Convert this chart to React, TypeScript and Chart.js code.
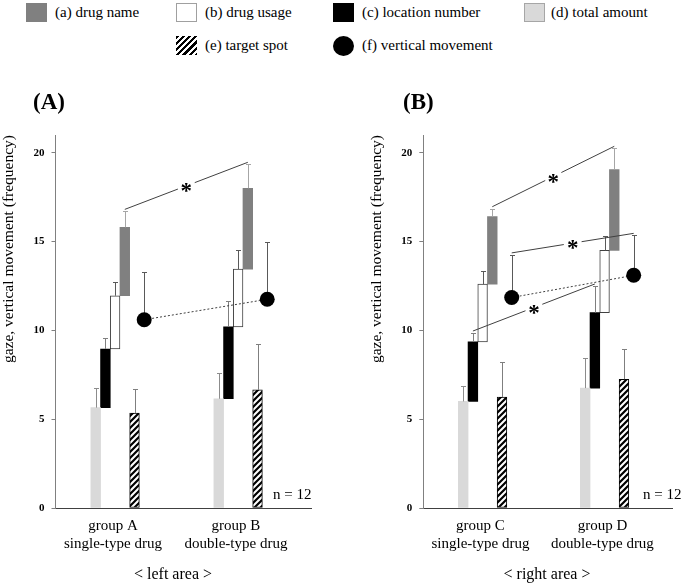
import React, { useEffect, useRef } from "react";
import { Chart, registerables } from "chart.js";

Chart.register(...registerables);

const SERIF = '"Liberation Serif", "Times New Roman", Times, serif';

// ---------- labels ----------
const seriesLabels = {
  a: "(a) drug name",
  b: "(b) drug usage",
  c: "(c) location number",
  d: "(d) total amount",
  e: "(e) target spot",
  f: "(f) vertical movement",
};
const yTickValues = [0, 5, 10, 15, 20];
const yAxisTitle = "gaze, vertical movement (frequency)";
const leftCategories = [["group A", "single-type drug"], ["group B", "double-type drug"]];
const rightCategories = [["group C", "single-type drug"], ["group D", "double-type drug"]];

// ---------- left area (A) ----------
// (d), (c), (b), (a) are stacked one above the other (increments)
const leftTotalAmount = [5.65, 6.15];
const leftLocationNumber = [3.3, 4.05];
const leftDrugUsage = [3.0, 3.25];
const leftDrugName = [3.85, 4.55];
const leftTargetSpot = [5.35, 6.65];
const leftVerticalMovement = [10.6, 11.75];
const leftTotalAmountErr = [1.1, 1.45];
const leftLocationNumberErr = [0.6, 1.45];
const leftDrugUsageErr = [0.75, 1.05];
const leftDrugNameErr = [0.9, 1.35];
const leftTargetSpotErr = [1.35, 2.6];
const leftVerticalMovementErr = [2.7, 3.2];
const leftSignificant = ["a"];

// ---------- right area (B) ----------
const rightTotalAmount = [6.0, 6.75];
const rightLocationNumber = [3.35, 4.25];
const rightDrugUsage = [3.25, 3.5];
const rightDrugName = [3.8, 4.55];
const rightTargetSpot = [6.25, 7.25];
const rightVerticalMovement = [11.85, 13.1];
const rightTotalAmountErr = [0.85, 1.7];
const rightLocationNumberErr = [0.5, 1.5];
const rightDrugUsageErr = [0.75, 0.8];
const rightDrugNameErr = [0.45, 1.2];
const rightTargetSpotErr = [1.95, 1.7];
const rightVerticalMovementErr = [2.4, 2.25];
const rightSignificant = ["a", "f", "c"];

type Panel = {
  categories: string[][];
  total: number[];
  location: number[];
  usage: number[];
  name: number[];
  target: number[];
  vertical: number[];
  totalErr: number[];
  locationErr: number[];
  usageErr: number[];
  nameErr: number[];
  targetErr: number[];
  verticalErr: number[];
  pairs: string[];
};

const leftPanel: Panel = {
  categories: leftCategories,
  total: leftTotalAmount,
  location: leftLocationNumber,
  usage: leftDrugUsage,
  name: leftDrugName,
  target: leftTargetSpot,
  vertical: leftVerticalMovement,
  totalErr: leftTotalAmountErr,
  locationErr: leftLocationNumberErr,
  usageErr: leftDrugUsageErr,
  nameErr: leftDrugNameErr,
  targetErr: leftTargetSpotErr,
  verticalErr: leftVerticalMovementErr,
  pairs: leftSignificant,
};

const rightPanel: Panel = {
  categories: rightCategories,
  total: rightTotalAmount,
  location: rightLocationNumber,
  usage: rightDrugUsage,
  name: rightDrugName,
  target: rightTargetSpot,
  vertical: rightVerticalMovement,
  totalErr: rightTotalAmountErr,
  locationErr: rightLocationNumberErr,
  usageErr: rightDrugUsageErr,
  nameErr: rightDrugNameErr,
  targetErr: rightTargetSpotErr,
  verticalErr: rightVerticalMovementErr,
  pairs: rightSignificant,
};

function makeHatch(): CanvasPattern | string {
  const c = document.createElement("canvas");
  c.width = 6;
  c.height = 6;
  const g = c.getContext("2d");
  if (!g) return "#000";
  g.fillStyle = "#fff";
  g.fillRect(0, 0, 6, 6);
  g.strokeStyle = "#000";
  g.lineWidth = 2.2;
  g.beginPath();
  g.moveTo(-1, 7);
  g.lineTo(7, -1);
  g.moveTo(-4, 4);
  g.lineTo(4, -4);
  g.moveTo(2, 10);
  g.lineTo(10, 2);
  g.stroke();
  return g.createPattern(c, "repeat") || "#000";
}

function buildDatasets(p: Panel, hatch: CanvasPattern | string) {
  const idx = p.total.map((_, i) => i);
  const cTop = idx.map((i) => p.total[i] + p.location[i]);
  const bTop = idx.map((i) => cTop[i] + p.usage[i]);
  const aTop = idx.map((i) => bTop[i] + p.name[i]);
  return [
    {
      key: "d",
      label: seriesLabels.d,
      data: idx.map((i) => ({ x: i, y: p.total[i] })),
      backgroundColor: "#d9d9d9",
      borderWidth: 0,
      tops: p.total,
      errs: p.totalErr,
      errColor: "#8c8c8c",
    },
    {
      key: "c",
      label: seriesLabels.c,
      data: idx.map((i) => ({ x: i, y: [p.total[i], cTop[i]] })),
      backgroundColor: "#000000",
      borderWidth: 0,
      tops: cTop,
      errs: p.locationErr,
      errColor: "#7f7f7f",
    },
    {
      key: "b",
      label: seriesLabels.b,
      data: idx.map((i) => ({ x: i, y: [cTop[i], bTop[i]] })),
      backgroundColor: "#ffffff",
      borderColor: "#404040",
      borderWidth: 1,
      borderSkipped: false,
      tops: bTop,
      errs: p.usageErr,
      errColor: "#595959",
    },
    {
      key: "a",
      label: seriesLabels.a,
      data: idx.map((i) => ({ x: i, y: [bTop[i], aTop[i]] })),
      backgroundColor: "#808080",
      borderWidth: 0,
      tops: aTop,
      errs: p.nameErr,
      errColor: "#a6a6a6",
    },
    {
      key: "e",
      label: seriesLabels.e,
      data: idx.map((i) => ({ x: i, y: p.target[i] })),
      backgroundColor: hatch,
      borderColor: "#000000",
      borderWidth: 1,
      borderSkipped: false,
      tops: p.target,
      errs: p.targetErr,
      errColor: "#7f7f7f",
    },
    {
      key: "f",
      label: seriesLabels.f,
      data: idx.map((i) => ({ x: i, y: p.vertical[i] })),
      backgroundColor: "rgba(0,0,0,0)",
      borderWidth: 0,
      tops: p.vertical,
      errs: p.verticalErr,
      errColor: "#595959",
    },
  ];
}

const overlayPlugin = {
  id: "overlay",
  afterDatasetsDraw(chart: any, _args: any, opts: any) {
    const ctx = chart.ctx as CanvasRenderingContext2D;
    const ys = chart.scales.y;
    const ds = chart.data.datasets as any[];
    const px = (v: number) => ys.getPixelForValue(v);
    const crisp = (v: number) => Math.round(v) + 0.5;
    ctx.save();
    ctx.lineWidth = 1;
    // error bars
    ds.forEach((d, di) => {
      const meta = chart.getDatasetMeta(di);
      meta.data.forEach((el: any, i: number) => {
        const x = crisp(el.x);
        const y0 = px(d.tops[i]);
        const y1 = crisp(px(d.tops[i] + d.errs[i]));
        ctx.strokeStyle = d.errColor;
        ctx.beginPath();
        ctx.moveTo(x, y0);
        ctx.lineTo(x, y1);
        ctx.moveTo(x - 2.5, y1);
        ctx.lineTo(x + 2.5, y1);
        ctx.stroke();
      });
    });
    // dots (f) with dotted connector
    const fi = ds.findIndex((d) => d.key === "f");
    if (fi >= 0) {
      const pts = chart
        .getDatasetMeta(fi)
        .data.map((el: any, i: number) => ({ x: el.x, y: px(ds[fi].tops[i]) }));
      ctx.strokeStyle = "#404040";
      ctx.setLineDash([2, 2]);
      ctx.beginPath();
      pts.forEach((p: any, i: number) => (i ? ctx.lineTo(p.x, p.y) : ctx.moveTo(p.x, p.y)));
      ctx.stroke();
      ctx.setLineDash([]);
      ctx.fillStyle = "#000";
      pts.forEach((p: any) => {
        ctx.beginPath();
        ctx.arc(p.x, p.y, 7.5, 0, Math.PI * 2);
        ctx.fill();
      });
    }
    // significance lines
    (opts.pairs || []).forEach((key: string) => {
      const di = ds.findIndex((d) => d.key === key);
      if (di < 0) return;
      const els = chart.getDatasetMeta(di).data;
      const d = ds[di];
      const p1 = { x: els[0].x, y: px(d.tops[0] + d.errs[0]) - 2 };
      const p2 = { x: els[1].x, y: px(d.tops[1] + d.errs[1]) - 2 };
      const mx = (p1.x + p2.x) / 2;
      const my = (p1.y + p2.y) / 2;
      const len = Math.hypot(p2.x - p1.x, p2.y - p1.y);
      const ux = (p2.x - p1.x) / len;
      const uy = (p2.y - p1.y) / len;
      const gap = 9;
      ctx.strokeStyle = "#404040";
      ctx.beginPath();
      ctx.moveTo(p1.x, p1.y);
      ctx.lineTo(mx - ux * gap, my - uy * gap);
      ctx.moveTo(mx + ux * gap, my + uy * gap);
      ctx.lineTo(p2.x, p2.y);
      ctx.stroke();
      ctx.fillStyle = "#000";
      ctx.font = `bold 23px ${SERIF}`;
      ctx.textAlign = "center";
      ctx.textBaseline = "alphabetic";
      ctx.fillText("*", mx, my + 12);
    });
    ctx.restore();
  },
};

type PanelProps = {
  panel: Panel;
  left: number;
  width: number;
  padLeft: number;
  padRight: number;
  yWidth: number;
  xMin: number;
  xMax: number;
};

function PanelChart({ panel, left, width, padLeft, padRight, yWidth, xMin, xMax }: PanelProps) {
  const ref = useRef<HTMLCanvasElement | null>(null);
  useEffect(() => {
    const canvas = ref.current;
    if (!canvas) return;
    const hatch = makeHatch();
    const chart = new Chart(canvas, {
      type: "bar",
      data: { datasets: buildDatasets(panel, hatch) as any },
      options: {
        responsive: false,
        animation: false,
        devicePixelRatio: 1,
        layout: { padding: { left: padLeft, right: padRight, top: 135, bottom: 0 } },
        datasets: { bar: { barThickness: 9.7, grouped: true } },
        plugins: {
          legend: { display: false },
          tooltip: { enabled: false },
          overlay: { pairs: panel.pairs },
        } as any,
        scales: {
          x: {
            type: "linear",
            min: xMin,
            max: xMax,
            offset: false,
            grid: { display: false, offset: false },
            border: { display: true, color: "#404040", width: 1 },
            afterBuildTicks: (s: any) => {
              s.ticks = panel.categories.map((_, i) => ({ value: i }));
            },
            afterFit: (s: any) => {
              s.height = 75;
            },
            ticks: {
              autoSkip: false,
              maxRotation: 0,
              minRotation: 0,
              padding: 1,
              labelOffset: -7,
              color: "#000",
              font: { family: SERIF, size: 15, lineHeight: 1.2 },
              callback: (_v: any, i: number) => panel.categories[i],
            },
          },
          y: {
            type: "linear",
            min: 0,
            max: 21,
            afterBuildTicks: (s: any) => {
              s.ticks = yTickValues.map((v) => ({ value: v }));
            },
            afterFit: (s: any) => {
              s.width = yWidth;
            },
            grid: {
              display: true,
              drawOnChartArea: false,
              drawTicks: true,
              tickLength: 4,
              color: "#808080",
            },
            border: { display: true, color: "#808080", width: 1 },
            ticks: {
              padding: 7,
              color: "#000",
              font: { family: SERIF, size: 11, weight: "bold" },
            },
            title: {
              display: true,
              text: yAxisTitle,
              align: "end",
              padding: { top: 0, bottom: 0 },
              color: "#000",
              font: { family: SERIF, size: 15.5, lineHeight: 1.2 },
            },
          },
        } as any,
      },
      plugins: [overlayPlugin],
    });
    return () => chart.destroy();
  }, []);
  return (
    <canvas
      ref={ref}
      width={width}
      height={583}
      style={{ position: "absolute", left, top: 0, width, height: 583, display: "block" }}
    />
  );
}

const textStyle: React.CSSProperties = {
  position: "absolute",
  fontFamily: SERIF,
  fontSize: 15,
  lineHeight: "19px",
  color: "#000",
  whiteSpace: "nowrap",
};

const boxBase: React.CSSProperties = {
  position: "absolute",
  width: 21,
  height: 19,
  boxSizing: "border-box",
};

export default function App() {
  return (
    <div
      style={{
        position: "fixed",
        left: 0,
        top: 0,
        width: 685,
        height: 583,
        background: "#fff",
        overflow: "hidden",
      }}
    >
      {/* legend row 1 */}
      <div style={{ ...boxBase, left: 26, top: 3, background: "#808080" }} />
      <div style={{ ...textStyle, left: 55, top: 3 }}>{seriesLabels.a}</div>
      <div style={{ ...boxBase, left: 176, top: 3, background: "#fff", border: "1px solid #a0a0a0" }} />
      <div style={{ ...textStyle, left: 205, top: 3 }}>{seriesLabels.b}</div>
      <div style={{ ...boxBase, left: 333, top: 3, background: "#000" }} />
      <div style={{ ...textStyle, left: 362, top: 3 }}>{seriesLabels.c}</div>
      <div style={{ ...boxBase, left: 524, top: 3, background: "#d9d9d9", border: "1px solid #a6a6a6" }} />
      <div style={{ ...textStyle, left: 551, top: 3 }}>{seriesLabels.d}</div>
      {/* legend row 2 */}
      <div
        style={{
          ...boxBase,
          left: 176,
          top: 36,
          background: "repeating-linear-gradient(135deg, #000 0px, #000 2.2px, #fff 2.2px, #fff 4.4px)",
        }}
      />
      <div style={{ ...textStyle, left: 205, top: 36 }}>{seriesLabels.e}</div>
      <div
        style={{
          position: "absolute",
          left: 333,
          top: 36,
          width: 21,
          height: 20,
          borderRadius: "50%",
          background: "#000",
        }}
      />
      <div style={{ ...textStyle, left: 362, top: 36 }}>{seriesLabels.f}</div>

      <PanelChart panel={leftPanel} left={0} width={340} padLeft={0} padRight={29} yWidth={55.5} xMin={-0.524} xMax={1.553} />
      <PanelChart panel={rightPanel} left={340} width={345} padLeft={28} padRight={13} yWidth={55.3} xMin={-0.526} xMax={1.513} />

      {/* panel labels */}
      <div style={{ ...textStyle, left: 33, top: 88, fontSize: 23, fontWeight: "bold", lineHeight: "27px" }}>(A)</div>
      <div style={{ ...textStyle, left: 403, top: 88, fontSize: 23, fontWeight: "bold", lineHeight: "27px" }}>(B)</div>

      <div style={{ ...textStyle, left: 273, top: 485 }}>n = 12</div>
      <div style={{ ...textStyle, left: 643, top: 485 }}>n = 12</div>

      <div style={{ ...textStyle, left: 73, width: 200, top: 564, fontSize: 16, lineHeight: "20px", textAlign: "center" }}>
        {"< left area >"}
      </div>
      <div style={{ ...textStyle, left: 447, width: 200, top: 564, fontSize: 16, lineHeight: "20px", textAlign: "center" }}>
        {"< right area >"}
      </div>
    </div>
  );
}
